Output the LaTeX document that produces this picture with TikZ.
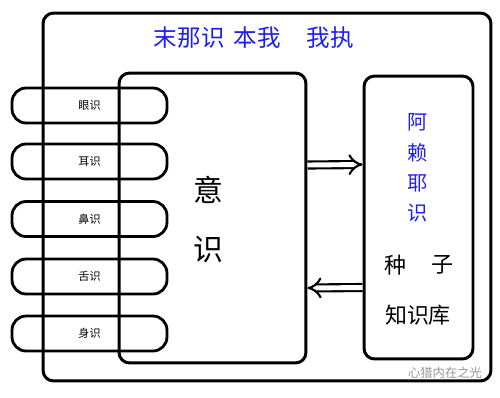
\documentclass[tikz,border=0pt]{standalone}
\usepackage{fontspec}
\usepackage{tikz}
\usetikzlibrary{positioning,arrows.meta,calc}
\usepackage{xcolor}
\newfontfamily\cjk{Noto Sans CJK SC}
\definecolor{titlec}{RGB}{30,30,240}
\definecolor{markc}{RGB}{150,150,150}
\tikzset{
  frame/.style={draw=black, line width=1.7pt, rounded corners=6pt},
  sense/.style={draw=black, line width=1.6pt, rounded corners=8pt, minimum width=3.1cm, minimum height=0.7cm, inner sep=0pt, font=\cjk\fontsize{6.3}{7}\selectfont},
  big/.style={font=\cjk\fontsize{17}{20}\selectfont},
  blue/.style={text=titlec, font=\cjk\fontsize{11.5}{13}\selectfont},
  seed/.style={font=\cjk\fontsize{12.5}{15}\selectfont},
  dbl/.style={double, double distance=2.8pt, line width=1.2pt, -{Implies[length=7pt]}}
}

\begin{document}
\begin{tikzpicture}[x=0.02cm, y=-0.02cm]
  \useasboundingbox (0,0) rectangle (500,397);

  \node[frame, minimum width=8.96cm, minimum height=7.36cm] (outer) at (267,197) {};
  \node[frame, minimum width=3.74cm, minimum height=5.8cm] (yi) at (212.5,218) {};
  \node[frame, minimum width=2.18cm, minimum height=5.66cm] (alaya) at (418.5,217.5) {};

  \node[blue, font=\cjk\fontsize{13.4}{15}\selectfont] (title) at (254,38) {末那识\hspace{0.4em}本我\hspace{1.1em}我执};

  \node[sense] (eye) at (89.5,105.5) {眼识};
  \node[sense] (ear) at (89.5,161.5) {耳识};
  \node[sense] (nose) at (89.5,219) {鼻识};
  \node[sense] (tongue) at (89.5,276.5) {舌识};
  \node[sense] (body) at (89.5,333.5) {身识};

  \node[big] (yi1) at (208,190) {意};
  \node[big] (yi2) at (208,250) {识};

  \node[blue] (a1) at (418,122) {阿};
  \node[blue] (a2) at (418,153) {赖};
  \node[blue] (a3) at (418,183) {耶};
  \node[blue] (a4) at (418,213) {识};
  \node[seed] (zhong) at (395,265) {种};
  \node[seed] (zi) at (442,265) {子};
  \node[seed] (ku) at (418,315) {知识库};

  \node[text=markc, font=\cjk\fontsize{7}{8}\selectfont] (mark) at (445,373) {心猎内在之光};

  \draw[dbl] ($(yi.east)+(0,-53)$) -- ($(alaya.west)+(0,-53)$);
  \draw[dbl] ($(alaya.west)+(0,70)$) -- ($(yi.east)+(0,70)$);
\end{tikzpicture}
\end{document}
